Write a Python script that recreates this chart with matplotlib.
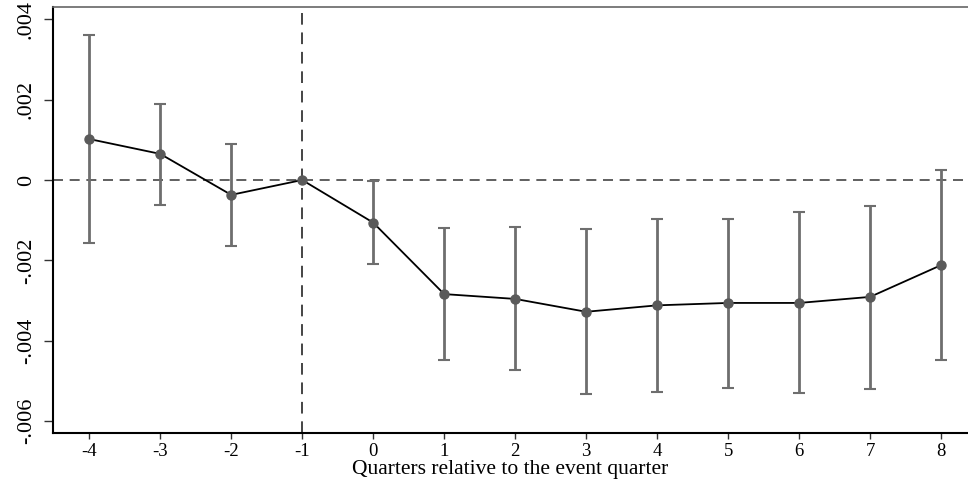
import matplotlib
matplotlib.use("Agg")
import matplotlib.pyplot as plt

# Event-study estimates
quarters = [-4, -3, -2, -1, 0, 1, 2, 3, 4, 5, 6, 7, 8]
coef = [0.00102, 0.00065, -0.00037, 0.0, -0.00106, -0.00284, -0.00296,
        -0.00328, -0.00312, -0.00306, -0.00306, -0.00291, -0.00212]
ci_upper = [0.0036, 0.00189, 0.0009, None, -0.00002, -0.0012, -0.00118,
            -0.00123, -0.00097, -0.00096, -0.0008, -0.00064, 0.00025]
ci_lower = [-0.00156, -0.00061, -0.00164, None, -0.0021, -0.00448, -0.00473,
            -0.00532, -0.00528, -0.00517, -0.0053, -0.00521, -0.00449]
yticks = [-0.006, -0.004, -0.002, 0, 0.002, 0.004]
yticklabels = ["-.006", "-.004", "-.002", "0", ".002", ".004"]

plt.rcParams['font.family'] = ['Liberation Serif', 'DejaVu Serif']

fig = plt.figure(figsize=(9.68, 4.84), dpi=100)
ax = fig.add_axes([0.0548, 0.106, 0.9452, 0.879])

# confidence intervals (skip the reference quarter)
for q, lo, hi in zip(quarters, ci_lower, ci_upper):
    if lo is None:
        continue
    ax.errorbar([q], [(lo + hi) / 2], yerr=[[(hi - lo) / 2], [(hi - lo) / 2]],
                fmt='none', ecolor='#6e6e6e', elinewidth=2.0, capsize=4.5,
                capthick=1.5, zorder=2)

ax.axhline(0, color='#444444', linestyle=(0, (6, 4)), linewidth=1.2, zorder=1)
ax.axvline(-1, color='#444444', linestyle=(0, (6, 4)), linewidth=1.4, zorder=1)

ax.plot(quarters, coef, color='black', linewidth=1.3, zorder=3)
ax.plot(quarters, coef, 'o', color='#5a5a5a', markersize=6.5, zorder=4)

ax.set_xlim(-4.51, 8.38)
ax.set_ylim(-0.00629, 0.0043)
ax.set_xticks(quarters)
ax.set_xticklabels([str(q) for q in quarters], fontsize=13.5)
ax.set_yticks(yticks)
ax.set_yticklabels(yticklabels, fontsize=16, rotation=90, va='center')
ax.tick_params(axis='x', direction='out', length=4.3, width=1.0, color='#333333', pad=3)
ax.tick_params(axis='y', direction='out', length=6.5, width=1.0, color='#333333', pad=6)
ax.set_xlabel('Quarters relative to the event quarter', fontsize=15.5, labelpad=0)

ax.spines['left'].set_linewidth(1.5)
ax.spines['bottom'].set_linewidth(1.5)
ax.spines['top'].set_color('#666666')
ax.spines['top'].set_linewidth(1.2)
ax.spines['right'].set_visible(False)

fig.savefig('out.png', dpi=100)
